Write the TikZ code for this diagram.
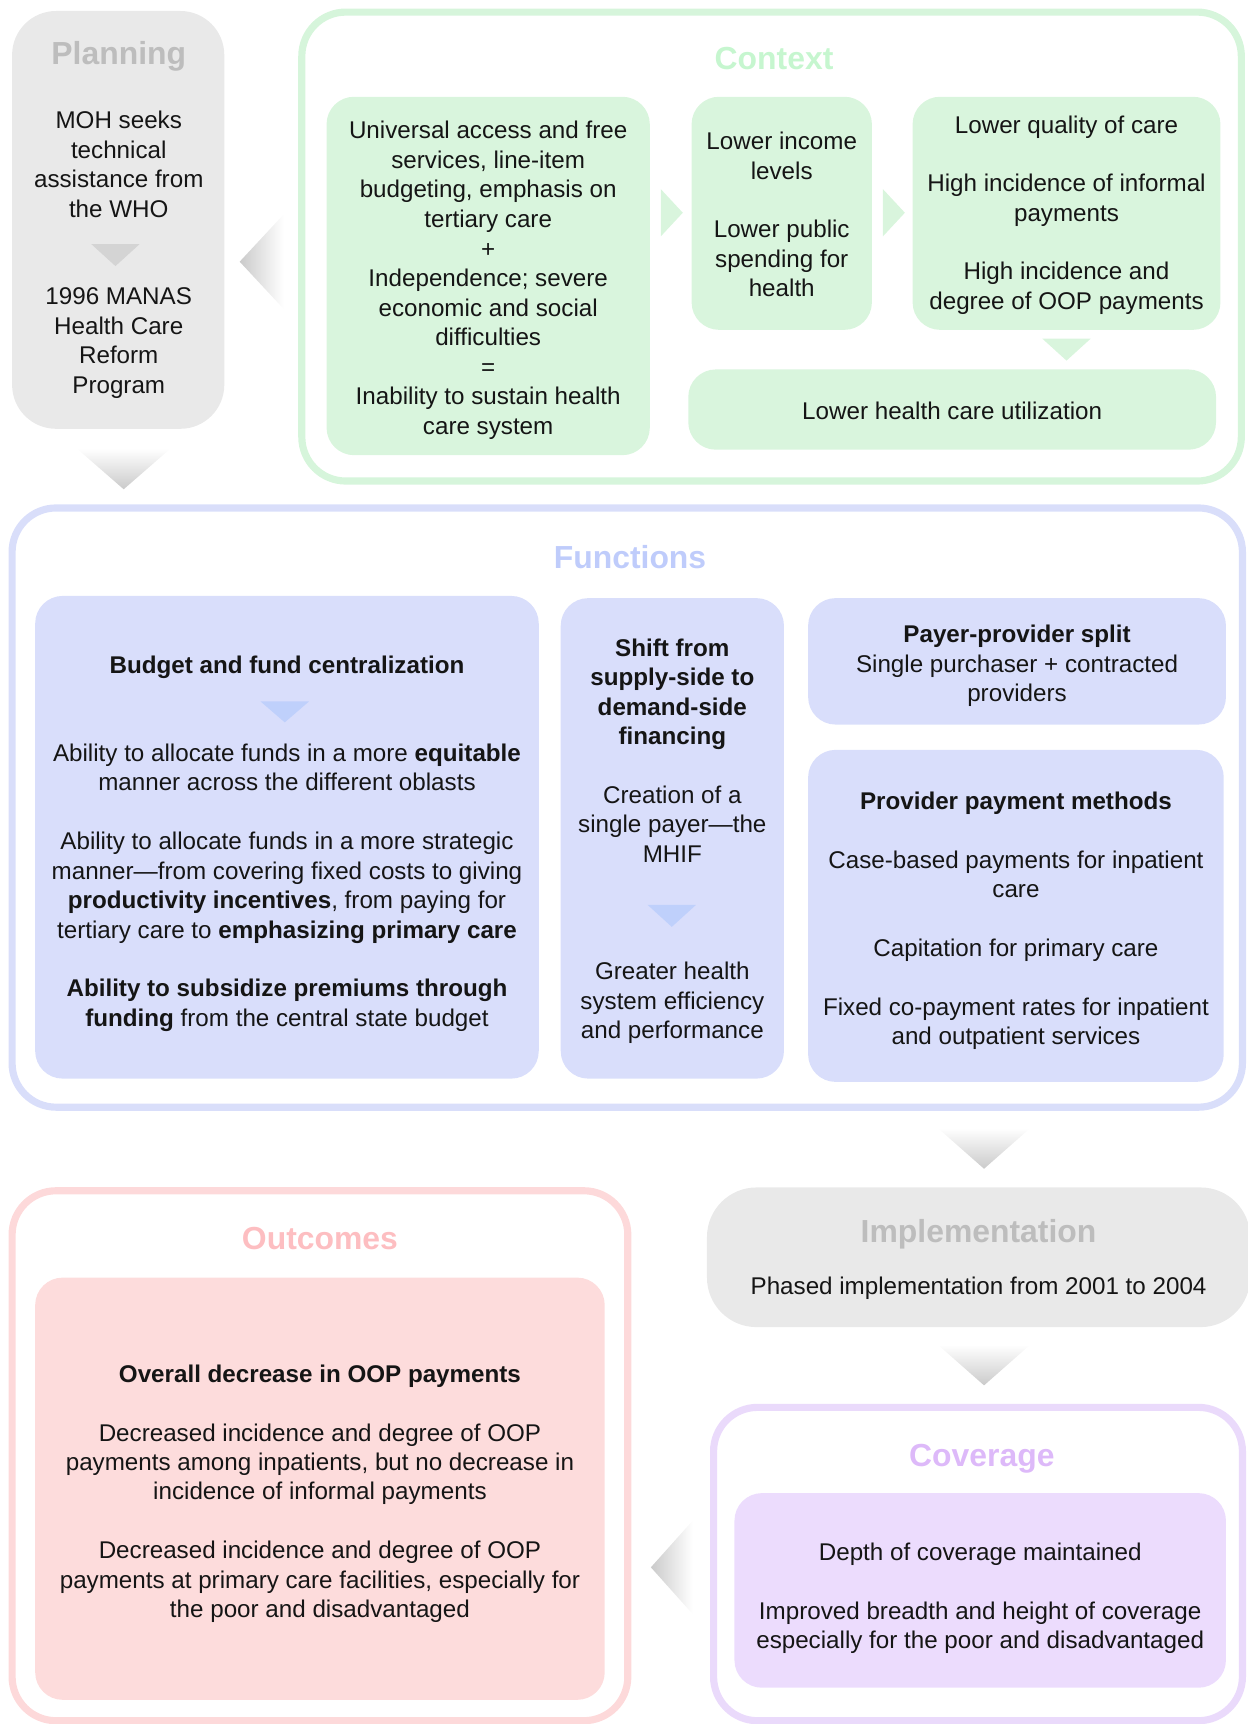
\documentclass[tikz,border=0pt]{standalone}
\usepackage{fontspec}
\setmainfont{Liberation Sans}
\definecolor{txt}{HTML}{151515}
\definecolor{gyfill}{HTML}{E9E9E9}
\definecolor{gyhead}{HTML}{BDBDBD}
\definecolor{gytri}{HTML}{D4D4D4}
\definecolor{gyarrow}{HTML}{CACACA}
\definecolor{gnfill}{HTML}{D9F5DD}
\definecolor{gnline}{HTML}{D6F5DB}
\definecolor{gnhead}{HTML}{C6F6CF}
\definecolor{blfill}{HTML}{D9DEFB}
\definecolor{blline}{HTML}{D9DEFA}
\definecolor{blhead}{HTML}{BFCCFB}
\definecolor{bltri}{HTML}{BFD0FB}
\definecolor{pkfill}{HTML}{FDDCDC}
\definecolor{pkline}{HTML}{FDD9DA}
\definecolor{pkhead}{HTML}{FDBEC1}
\definecolor{pufill}{HTML}{ECDCFD}
\definecolor{puline}{HTML}{EADAFB}
\definecolor{puhead}{HTML}{DDB9F9}
\begin{document}
\begin{tikzpicture}[x=1pt,y=-1pt,
  every node/.style={font=\fontsize{22}{26.7}\selectfont, text=txt, inner sep=0pt, outer sep=0pt},
  body/.style={align=center},
  head/.style={font=\fontsize{29}{34}\selectfont\bfseries},
  outerbox/.style={draw, line width=6.5pt, rounded corners=40pt, rectangle},
  innerbox/.style={rectangle, rounded corners=25pt},
  chevdown/.style={top color=white, bottom color=gyarrow, draw=none},
  chevleft/.style={left color=gyarrow, right color=white, draw=none},
]
\useasboundingbox (0,0) rectangle (1135,1568);

% ---------------- Planning ----------------
\node[rectangle, rounded corners=40pt, fill=gyfill, minimum width=193pt, minimum height=380pt] (plan) at (107.5,200) {};
\node[head, text=gyhead] (planh) at (108,51.5) {Planning};
\node[body] (plan1) at (108,149.5) {MOH seeks\\technical\\assistance from\\the WHO};
\fill[gytri] (83,222) -- (127,222) -- (105,242) -- cycle;
\node[body] (plan2) at (108,312) {1996 MANAS\\Health Care\\Reform\\Program};

% chevrons from planning
\shade[chevdown] (70,408) -- (155,408) -- (112.5,445) -- cycle;
\shade[chevleft] (258,195) -- (258,281) -- (218,238) -- cycle;

% ---------------- Context ----------------
\node[outerbox, draw=gnline, minimum width=854.5pt, minimum height=426.5pt] (ctx) at (701.75,224.25) {};
\node[head, text=gnhead] (ctxh) at (704,53) {Context};
\node[innerbox, fill=gnfill, minimum width=294pt, minimum height=326pt] (ctxA) at (444,251) {};
\node[innerbox, fill=gnfill, minimum width=164pt, minimum height=212pt] (ctxB) at (711,194) {};
\node[innerbox, fill=gnfill, minimum width=280pt, minimum height=212pt] (ctxC) at (970,194) {};
\node[innerbox, fill=gnfill, minimum width=480pt, minimum height=73pt] (ctxD) at (866,372.5) {};
\fill[gnfill] (601,172) -- (601,215) -- (621,193.5) -- cycle;
\fill[gnfill] (803,172) -- (803,215) -- (823,193.5) -- cycle;
\fill[gnfill] (948,308) -- (992,308) -- (970,328) -- cycle;
\node[body, font=\fontsize{22}{26.9}\selectfont] (ctxAt) at (444,255) {Universal access and free\\services, line-item\\budgeting, emphasis on\\tertiary care\\+\\Independence; severe\\economic and social\\difficulties\\=\\Inability to sustain health\\care system};
\node[body] (ctxBt) at (711,195) {Lower income\\levels\\[26.7pt]Lower public\\spending for\\health};
\node[body] (ctxCt) at (970,195.5) {Lower quality of care\\[26.7pt]High incidence of informal\\payments\\[26.7pt]High incidence and\\degree of OOP payments};
\node[body] (ctxDt) at (866,374) {Lower health care utilization};

% ---------------- Functions ----------------
\node[outerbox, draw=blline, minimum width=1119pt, minimum height=545pt] (fun) at (570.5,734.5) {};
\node[head, text=blhead] (funh) at (573,507) {Functions};
\node[innerbox, fill=blfill, minimum width=458pt, minimum height=439pt] (funE) at (261,761.5) {};
\node[innerbox, fill=blfill, minimum width=203pt, minimum height=437pt] (funF) at (611.5,762.5) {};
\node[innerbox, fill=blfill, minimum width=380pt, minimum height=115pt] (funG) at (925,601.5) {};
\node[innerbox, fill=blfill, minimum width=378pt, minimum height=302pt] (funH) at (924,833) {};
\node[body] (funE1) at (261,607) {\textbf{Budget and fund centralization}};
\fill[bltri] (237,638) -- (281,638) -- (259,657) -- cycle;
\node[body] (funE2) at (261,698) {Ability to allocate funds in a more \textbf{equitable}\\manner across the different oblasts};
\node[body] (funE3) at (261,847.5) {Ability to allocate funds in a more strategic\\manner---from covering fixed costs to giving\\\textbf{productivity incentives}, from paying for\\tertiary care to \textbf{emphasizing primary care}\\[26.7pt]\textbf{Ability to subsidize premiums through}\\\textbf{funding} from the central state budget};
\node[body] (funF1) at (611.5,631.5) {\textbf{Shift from}\\\textbf{supply-side to}\\\textbf{demand-side}\\\textbf{financing}};
\node[body] (funF2) at (611.5,749.5) {Creation of a\\single payer---the\\MHIF};
\fill[bltri] (589,823) -- (633,823) -- (611,843) -- cycle;
\node[body] (funF3) at (611.5,912) {Greater health\\system efficiency\\and performance};
\node[body] (funGt) at (925,605.5) {\textbf{Payer-provider split}\\Single purchaser + contracted\\providers};
\node[body] (funHt) at (924,837.5) {\textbf{Provider payment methods}\\[26.7pt]Case-based payments for inpatient\\care\\[26.7pt]Capitation for primary care\\[26.7pt]Fixed co-payment rates for inpatient\\and outpatient services};

% chevron to implementation
\shade[chevdown] (853,1026) -- (937,1026) -- (895,1063) -- cycle;

% ---------------- Implementation ----------------
\node[rectangle, rounded corners=45pt, fill=gyfill, minimum width=494pt, minimum height=127pt] (impl) at (890,1143.5) {};
\node[head, text=gyhead] (implh) at (890,1123) {Implementation};
\node[body] (implt) at (890,1172) {Phased implementation from 2001 to 2004};

\shade[chevdown] (853,1223) -- (937,1223) -- (895,1260) -- cycle;

% ---------------- Coverage ----------------
\node[outerbox, draw=puline, minimum width=481pt, minimum height=285pt] (cov) at (889.5,1422.5) {};
\node[head, text=puhead] (covh) at (893,1327) {Coverage};
\node[innerbox, fill=pufill, minimum width=447pt, minimum height=177pt] (covI) at (891.5,1446.5) {};
\node[body] (covt) at (891.5,1453.5) {Depth of coverage maintained\\[26.7pt]Improved breadth and height of coverage\\especially for the poor and disadvantaged};

\shade[chevleft] (630,1383) -- (630,1468) -- (592,1425.5) -- cycle;

% ---------------- Outcomes ----------------
\node[outerbox, draw=pkline, minimum width=560pt, minimum height=482pt] (out) at (291,1324) {};
\node[head, text=pkhead] (outh) at (291,1126) {Outcomes};
\node[innerbox, fill=pkfill, minimum width=518pt, minimum height=384pt] (outJ) at (291,1354) {};
\node[body] (outt) at (291,1358.5) {\textbf{Overall decrease in OOP payments}\\[26.7pt]Decreased incidence and degree of OOP\\payments among inpatients, but no decrease in\\incidence of informal payments\\[26.7pt]Decreased incidence and degree of OOP\\payments at primary care facilities, especially for\\the poor and disadvantaged};
\end{tikzpicture}
\end{document}
